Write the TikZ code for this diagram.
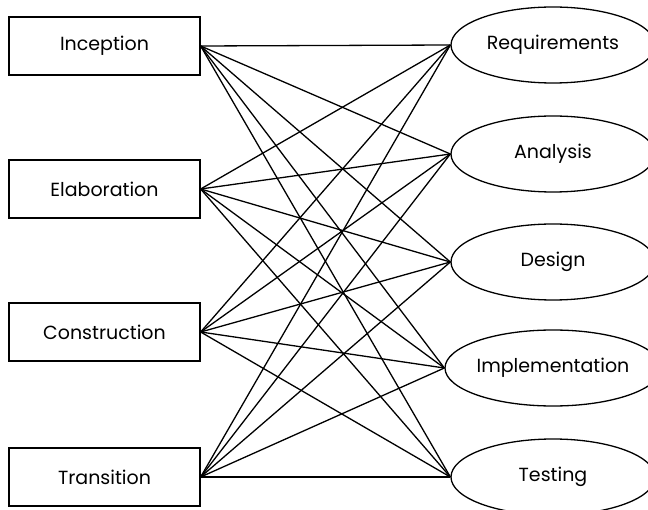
\documentclass[tikz,border=0pt]{standalone}
\usepackage{fontspec}
\setmainfont{Poppins}
\usetikzlibrary{shapes.geometric}

\begin{document}
\begin{tikzpicture}[x=1pt,y=-1pt,line width=1.3pt,
  phase/.style={draw, rectangle, minimum width=191pt, minimum height=58pt, inner sep=0pt, font=\fontsize{19}{22}\selectfont},
  flow/.style={draw, ellipse, minimum width=204pt, minimum height=76pt, inner sep=0pt, font=\fontsize{19}{22}\selectfont}]
\useasboundingbox (0,0) rectangle (648,510);
\fill[white] (0,0) rectangle (648,510);
% phases
\foreach \name/\txt/\y in {inc/Inception/46, ela/Elaboration/189, con/Construction/332, tra/Transition/477}{
	\node[phase] (\name) at (104.5,\y) {\txt};
}
% workflows
\foreach \name/\txt/\y in {req/Requirements/45, ana/Analysis/154, des/Design/262, imp/Implementation/368, tes/Testing/477}{
	\node[flow] (\name) at (553,\y) {\txt};
}
\foreach \a in {inc,ela,con,tra}{
	\foreach \b in {req,ana,des,imp,tes}{
		\draw (\a.east) -- (\b.west);
	}
}
\end{tikzpicture}
\end{document}
